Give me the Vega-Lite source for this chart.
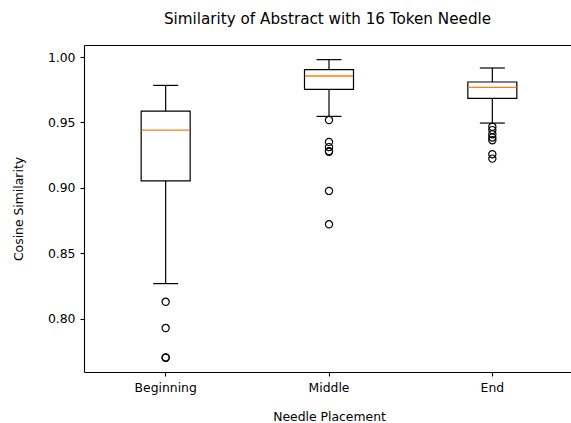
{
  "$schema": "https://vega.github.io/schema/vega-lite/v6.json",
  "width": 487,
  "height": 327,
  "autosize": {"type": "none"},
  "padding": {"left": 84, "top": 45, "right": 0, "bottom": 51},
  "background": "white",
  "title": {
    "text": "Similarity of Abstract with 16 Token Needle",
    "font": "DejaVu Sans",
    "fontSize": 15.2,
    "fontWeight": "normal",
    "color": "black",
    "anchor": "middle",
    "baseline": "alphabetic",
    "offset": 6
  },
  "config": {
    "view": {"stroke": null},
    "font": "DejaVu Sans",
    "axis": {
      "labelFont": "DejaVu Sans",
      "labelFontSize": 12.4,
      "labelColor": "black",
      "titleFont": "DejaVu Sans",
      "titleFontSize": 12.4,
      "titleFontWeight": "normal",
      "titleColor": "black",
      "domainColor": "black",
      "domainWidth": 1.1,
      "tickColor": "black",
      "tickSize": 4,
      "tickWidth": 1.1,
      "grid": false
    },
    "axisX": {"labelAngle": 0, "labelPadding": 5, "titlePadding": 17},
    "axisY": {"labelPadding": 5, "titlePadding": 22}
  },
  "datasets": {
    "stats": [
      {"placement": "Beginning", "lower": 0.8267, "q1": 0.9053, "median": 0.9441, "q3": 0.9586, "upper": 0.9783},
      {"placement": "Middle", "lower": 0.9546, "q1": 0.9753, "median": 0.9855, "q3": 0.9903, "upper": 0.998},
      {"placement": "End", "lower": 0.9495, "q1": 0.9684, "median": 0.9768, "q3": 0.9809, "upper": 0.9916}
    ],
    "outliers": [
      {"placement": "Beginning", "value": 0.8128},
      {"placement": "Beginning", "value": 0.7927},
      {"placement": "Beginning", "value": 0.7700},
      {"placement": "Beginning", "value": 0.7702},
      {"placement": "Middle", "value": 0.9518},
      {"placement": "Middle", "value": 0.9351},
      {"placement": "Middle", "value": 0.9311},
      {"placement": "Middle", "value": 0.9280},
      {"placement": "Middle", "value": 0.9275},
      {"placement": "Middle", "value": 0.8976},
      {"placement": "Middle", "value": 0.8721},
      {"placement": "End", "value": 0.9466},
      {"placement": "End", "value": 0.9441},
      {"placement": "End", "value": 0.9410},
      {"placement": "End", "value": 0.9385},
      {"placement": "End", "value": 0.9364},
      {"placement": "End", "value": 0.9257},
      {"placement": "End", "value": 0.9223}
    ]
  },
  "layer": [
    {
      "data": {"name": "stats"},
      "mark": {"type": "rule", "color": "black", "strokeWidth": 1.2},
      "encoding": {
        "x": {
          "field": "placement", "type": "nominal",
          "sort": ["Beginning", "Middle", "End"],
          "scale": {"type": "band", "range": [0, 490], "paddingInner": 0.7, "paddingOuter": 0.35},
          "axis": {"title": "Needle Placement"}
        },
        "y": {
          "field": "lower", "type": "quantitative",
          "scale": {"domain": [0.7591, 1.0092], "nice": false, "zero": false},
          "axis": {"title": "Cosine Similarity", "values": [0.8, 0.85, 0.9, 0.95, 1.0], "format": ".2f"}
        },
        "y2": {"field": "upper"}
      }
    },
    {
      "data": {"name": "stats"},
      "mark": {"type": "bar", "fill": "white", "stroke": "black", "strokeWidth": 1.2},
      "encoding": {
        "x": {"field": "placement", "type": "nominal", "sort": ["Beginning", "Middle", "End"], "axis": null},
        "y": {"field": "q1", "type": "quantitative"},
        "y2": {"field": "q3"}
      }
    },
    {
      "data": {"name": "stats"},
      "mark": {"type": "tick", "color": "#ff7f0e", "size": 48, "thickness": 1.3, "opacity": 1},
      "encoding": {
        "x": {"field": "placement", "type": "nominal", "sort": ["Beginning", "Middle", "End"], "axis": null},
        "y": {"field": "median", "type": "quantitative"}
      }
    },
    {
      "data": {"name": "stats"},
      "mark": {"type": "tick", "color": "black", "size": 25, "thickness": 1.2, "opacity": 1},
      "encoding": {
        "x": {"field": "placement", "type": "nominal", "sort": ["Beginning", "Middle", "End"], "axis": null},
        "y": {"field": "lower", "type": "quantitative"}
      }
    },
    {
      "data": {"name": "stats"},
      "mark": {"type": "tick", "color": "black", "size": 25, "thickness": 1.2, "opacity": 1},
      "encoding": {
        "x": {"field": "placement", "type": "nominal", "sort": ["Beginning", "Middle", "End"], "axis": null},
        "y": {"field": "upper", "type": "quantitative"}
      }
    },
    {
      "data": {"name": "outliers"},
      "mark": {"type": "point", "shape": "circle", "filled": false, "color": "black", "size": 52, "strokeWidth": 1.2, "opacity": 1},
      "encoding": {
        "x": {
          "field": "placement", "type": "nominal", "sort": ["Beginning", "Middle", "End"],
          "axis": {"orient": "top", "labels": false, "ticks": false, "domain": true, "title": null}
        },
        "y": {"field": "value", "type": "quantitative"}
      }
    }
  ],
  "resolve": {"axis": {"x": "independent"}}
}
